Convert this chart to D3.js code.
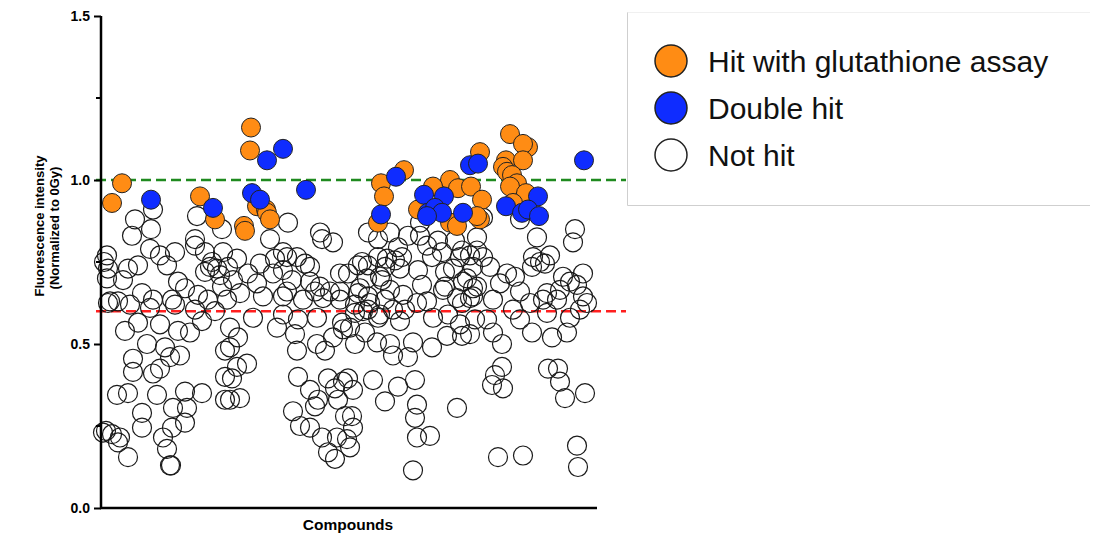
<!DOCTYPE html>
<html>
<head>
<meta charset="utf-8">
<style>
  body { margin: 0; background: #fff; font-family: "Liberation Sans", Arial, sans-serif; }
  .axis path, .axis line { stroke: #000; }
  .tick text { font-weight: bold; font-size: 14px; fill: #000; }
  .lbl { font-weight: bold; fill: #000; }
  .legend text { font-size: 30px; fill: #111; }
</style>
</head>
<body>
<svg width="1094" height="537"></svg>
<script src="https://cdn.jsdelivr.net/npm/d3@7"></script>
<script>

// [compound position, normalized fluorescence]
var glutathioneHits = [
  [22,0.99],[12,0.93],[100,0.95],[115,0.88],[151,1.16],[150,1.09],[157,0.92],[166,0.91],
  [167,0.90],[170,0.88],[144,0.86],[145,0.845],[304,1.03],[281,0.99],[284,0.95],[278,0.87],
  [350,1.00],[333,0.98],[358,0.975],[318,0.91],[350,0.87],[357,0.86],[371,0.98],[380,1.085],
  [410,1.14],[428,1.10],[423,1.11],[406,1.06],[423,1.06],[403,1.04],[407,1.025],[412,1.015],
  [417,0.99],[410,0.98],[426,0.96],[413,0.93],[382,0.94],[380,0.88],[377,0.89]
];

var doubleHits = [
  [51,0.94],[113,0.915],[183,1.095],[167,1.06],[206,0.97],[152,0.96],[160,0.94],[296,1.01],
  [281,0.895],[324,0.955],[344,0.95],[328,0.90],[335,0.915],[342,0.90],[327,0.89],[363,0.90],
  [370,1.045],[378,1.05],[438,0.95],[406,0.92],[422,0.90],[428,0.91],[439,0.89],[484,1.06]
];

var notHits = [
  // left block, upper
  [35,0.88],[53,0.91],[51,0.85],[32,0.83],[97,0.89],[95,0.82],[7,0.77],[4,0.75],[8,0.73],
  [28,0.73],[38,0.74],[50,0.79],[60,0.77],[75,0.78],[67,0.74],[95,0.80],[105,0.78],[110,0.735],
  [117,0.73],[78,0.69],[85,0.67],[23,0.695],[7,0.70],[10,0.63],[18,0.63],[42,0.655],[53,0.635],
  [72,0.635],[98,0.65],[108,0.635],[122,0.675],[112,0.75],[120,0.71],[105,0.72],
  [30,0.62],[50,0.61],[75,0.62],[95,0.605],[115,0.60],
  // left block, lower
  [8,0.625],[25,0.54],[38,0.565],[60,0.56],[78,0.54],[90,0.535],[102,0.57],[47,0.50],[65,0.49],
  [80,0.465],[70,0.46],[33,0.455],[33,0.415],[53,0.41],[60,0.425],[17,0.345],[28,0.35],[57,0.345],
  [85,0.355],[102,0.35],[42,0.29],[42,0.245],[73,0.305],[87,0.305],[85,0.26],[72,0.245],[63,0.215],
  [67,0.18],[71,0.13],[70,0.13],[3,0.23],[6,0.235],[12,0.225],[20,0.215],[18,0.20],[28,0.155],
  [125,0.48],[125,0.40],[125,0.33],
  // second block, upper
  [188,0.87],[170,0.82],[220,0.84],[222,0.82],[233,0.81],[240,0.715],[122,0.85],[123,0.78],
  [128,0.735],[137,0.76],[160,0.745],[175,0.76],[187,0.765],[197,0.765],[205,0.745],[183,0.725],
  [173,0.715],[148,0.715],[133,0.695],[157,0.685],[192,0.695],[210,0.69],[220,0.675],[230,0.66],
  [140,0.655],[163,0.645],[183,0.645],[203,0.635],[127,0.635],[240,0.635],
  // second block, lower
  [130,0.55],[138,0.52],[130,0.49],[147,0.44],[137,0.43],[132,0.395],[130,0.33],[140,0.335],
  [153,0.58],[177,0.55],[195,0.53],[197,0.48],[217,0.50],[225,0.48],[233,0.52],[243,0.545],
  [198,0.40],[210,0.36],[218,0.33],[215,0.31],[228,0.395],[235,0.365],[243,0.385],[238,0.33],
  [193,0.295],[200,0.25],[210,0.245],[222,0.215],[237,0.215],[228,0.17],[235,0.15],[245,0.28],
  [247,0.21],
  // middle band
  [278,0.82],[290,0.84],[320,0.83],[327,0.80],[183,0.78],[210,0.735],[262,0.75],[268,0.74],
  [287,0.76],[302,0.765],[300,0.73],[318,0.725],[345,0.72],[360,0.765],[370,0.77],[367,0.70],
  [373,0.67],[280,0.705],[267,0.70],[260,0.67],[240,0.66],[223,0.64],[215,0.66],[187,0.66],
  [270,0.625],[263,0.60],[290,0.665],[303,0.65],[327,0.63],[343,0.665],[357,0.64],[370,0.64],
  [255,0.62],[280,0.59],[300,0.57],[333,0.58],[360,0.56],[242,0.565],[217,0.58],[198,0.575],
  [183,0.59],
  // third block, upper
  [268,0.84],[308,0.83],[298,0.795],[338,0.815],[342,0.78],[355,0.815],[362,0.785],[320,0.87],
  [258,0.74],[278,0.765],[285,0.735],[295,0.755],[282,0.695],[248,0.715],[332,0.765],[353,0.73],
  [363,0.69],[258,0.655],[268,0.645],[285,0.635],[345,0.675],[322,0.68],
  // third block, lower
  [255,0.595],[268,0.605],[278,0.58],[293,0.605],[305,0.605],[317,0.625],[348,0.59],[362,0.625],
  [250,0.55],[255,0.50],[265,0.535],[277,0.505],[290,0.50],[293,0.465],[308,0.46],[313,0.505],
  [332,0.49],[347,0.525],[362,0.525],[248,0.395],[253,0.36],[273,0.39],[298,0.37],[315,0.39],
  [285,0.325],[317,0.315],[315,0.275],[357,0.305],[252,0.28],[253,0.245],[250,0.185],[317,0.215],
  [330,0.22],[313,0.115],[370,0.53],[375,0.575],
  // right block, upper
  [383,0.885],[420,0.88],[437,0.825],[475,0.85],[473,0.81],[377,0.825],[377,0.785],[383,0.765],
  [390,0.735],[373,0.735],[433,0.765],[440,0.75],[450,0.77],[445,0.745],[432,0.735],[407,0.715],
  [415,0.705],[420,0.66],[400,0.685],[463,0.705],[483,0.715],[477,0.68],[470,0.69],[460,0.665],
  [447,0.655],[443,0.635],[457,0.635],[483,0.645],[487,0.625],[377,0.675],[373,0.645],[393,0.635],
  [430,0.625],
  // right block, lower
  [387,0.575],[393,0.535],[402,0.50],[413,0.605],[420,0.575],[432,0.535],[447,0.595],[452,0.52],
  [467,0.535],[470,0.58],[480,0.605],[402,0.43],[395,0.405],[392,0.375],[403,0.365],[448,0.425],
  [458,0.425],[460,0.385],[465,0.335],[485,0.35],[398,0.155],[423,0.16],[477,0.19],[478,0.125]
];

var yTicks = [0, 0.5, 1.0, 1.5];
var yMinorTicks = [0.25, 0.75, 1.25];
var upperCut = 1.0, lowerCut = 0.6;

var legendItems = [
  {label: "Hit with glutathione assay", fill: "#ff8c14"},
  {label: "Double hit", fill: "#0f2cff"},
  {label: "Not hit", fill: "#fff"}
];

var svg = d3.select("svg");
var x = d3.scaleLinear().domain([0, 497]).range([100, 597]);
var y = d3.scaleLinear().domain([0, 1.5]).range([508, 16]);

// threshold lines
svg.append("line")
  .attr("x1", 96).attr("x2", 626)
  .attr("y1", y(upperCut)).attr("y2", y(upperCut))
  .attr("stroke", "#1f8a1f").attr("stroke-width", 2.5).attr("stroke-dasharray", "10,5");
svg.append("line")
  .attr("x1", 96).attr("x2", 626)
  .attr("y1", y(lowerCut)).attr("y2", y(lowerCut))
  .attr("stroke", "#ff1f1f").attr("stroke-width", 2.5).attr("stroke-dasharray", "10,5");

// points
svg.append("g").selectAll("circle").data(notHits).join("circle")
  .attr("cx", d => x(d[0])).attr("cy", d => y(d[1])).attr("r", 9.5)
  .attr("fill", "none").attr("stroke", "#1a1a1a").attr("stroke-width", 1.2);

svg.append("g").selectAll("circle").data(glutathioneHits).join("circle")
  .attr("cx", d => x(d[0])).attr("cy", d => y(d[1])).attr("r", 9.5)
  .attr("fill", legendItems[0].fill).attr("stroke", "#222").attr("stroke-width", 1);

svg.append("g").selectAll("circle").data(doubleHits).join("circle")
  .attr("cx", d => x(d[0])).attr("cy", d => y(d[1])).attr("r", 9.5)
  .attr("fill", legendItems[1].fill).attr("stroke", "#222").attr("stroke-width", 1);

// axes
var yAxis = svg.append("g")
  .attr("class", "axis")
  .attr("transform", "translate(101,0)")
  .call(d3.axisLeft(y).tickValues(yTicks).tickFormat(d3.format(".1f")).tickSize(7).tickPadding(4));
yAxis.select(".domain").attr("stroke-width", 2.5).attr("d", "M0,16V508");
yAxis.selectAll(".tick line").attr("stroke-width", 2);

svg.append("g")
  .attr("transform", "translate(101,0)")
  .selectAll("line").data(yMinorTicks).join("line")
  .attr("x1", -5).attr("x2", 0)
  .attr("y1", d => y(d)).attr("y2", d => y(d))
  .attr("stroke", "#000").attr("stroke-width", 2);

svg.append("line")
  .attr("x1", 100).attr("x2", 597).attr("y1", 508).attr("y2", 508)
  .attr("stroke", "#000").attr("stroke-width", 2.5);

// labels
svg.append("text").attr("class", "lbl")
  .attr("transform", "translate(44,226) rotate(-90)")
  .attr("text-anchor", "middle").attr("font-size", 13)
  .text("Fluorescence intensity");
svg.append("text").attr("class", "lbl")
  .attr("transform", "translate(59,228) rotate(-90)")
  .attr("text-anchor", "middle").attr("font-size", 13)
  .text("(Normalized to 0Gy)");
svg.append("text").attr("class", "lbl")
  .attr("x", 348).attr("y", 530)
  .attr("text-anchor", "middle").attr("font-size", 15.5)
  .text("Compounds");

// legend
var legend = svg.append("g").attr("class", "legend");
legend.append("path")
  .attr("d", "M627.5,12V205.5H1090")
  .attr("fill", "none").attr("stroke", "#cfcfcf").attr("stroke-width", 1);
legend.append("path")
  .attr("d", "M627.5,12.5H1090")
  .attr("fill", "none").attr("stroke", "#f0f0f0").attr("stroke-width", 1);
var item = legend.selectAll("g.item").data(legendItems).join("g")
  .attr("class", "item")
  .attr("transform", (d, i) => "translate(0," + (61 + i * 47) + ")");
item.append("circle")
  .attr("cx", 671).attr("cy", 0).attr("r", 16)
  .attr("fill", d => d.fill).attr("stroke", "#222").attr("stroke-width", 1.5);
item.append("text")
  .attr("x", 708).attr("y", 11)
  .text(d => d.label);

</script>
</body>
</html>
